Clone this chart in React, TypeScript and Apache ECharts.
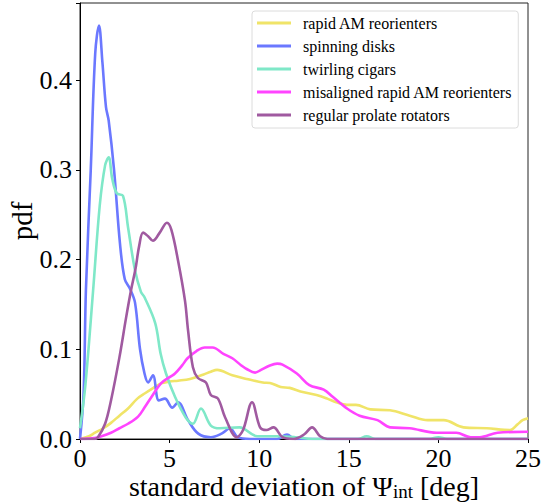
import React, { useEffect, useRef } from "react";
import * as echarts from "echarts";

const seriesNames = [
  "rapid AM reorienters",
  "spinning disks",
  "twirling cigars",
  "misaligned rapid AM reorienters",
  "regular prolate rotators",
];
const seriesColors = ["#f0e468", "#6b78ff", "#7fe8c8", "#ff44ff", "#a05aa0"];

const xTicks = [0, 5, 10, 15, 20, 25];
const yTicks = [0, 0.1, 0.2, 0.3, 0.4];

const rapidAM: number[][] = [
  [0, 0], [0.5, 0.003], [0.84, 0.007], [1.3, 0.012], [1.73, 0.018], [2.2, 0.026],
  [2.68, 0.034], [3.2, 0.045], [3.63, 0.051], [4.1, 0.057], [4.52, 0.062], [5.0, 0.064],
  [5.47, 0.065], [6.14, 0.067], [6.9, 0.072], [7.3, 0.075], [7.65, 0.077], [8.5, 0.071],
  [9.3, 0.067], [10.2, 0.063], [10.6, 0.0625], [11.2, 0.058], [11.7, 0.057], [12.3, 0.053],
  [13.2, 0.049], [13.8, 0.045], [14.3, 0.041], [14.9, 0.038], [15.4, 0.038], [16.2, 0.033],
  [17.3, 0.032], [18.4, 0.026], [19.4, 0.021], [20.3, 0.021], [21.4, 0.013], [22.7, 0.012],
  [24.0, 0.010], [24.4, 0.016], [24.7, 0.021], [25, 0.023],
];

const spinningDisks: number[][] = [
  [0, 0], [0.2, 0.05], [0.33, 0.166], [0.6, 0.3], [0.85, 0.43], [1.06, 0.461],
  [1.25, 0.42], [1.45, 0.37], [1.6, 0.355], [1.9, 0.3], [2.23, 0.218], [2.5, 0.178],
  [2.8, 0.167], [3.07, 0.152], [3.35, 0.1], [3.6, 0.073], [3.8, 0.063], [4.07, 0.071],
  [4.4, 0.043], [4.74, 0.045], [5.15, 0.035], [5.47, 0.041], [6.03, 0.021], [6.6, 0.006],
  [7.3, 0.002], [7.9, 0.006], [8.37, 0.012], [8.8, 0.002], [9.5, 0], [11.0, 0],
  [11.55, 0.005], [12.0, 0], [25, 0],
];

const twirlingCigars: number[][] = [
  [0, 0.012], [0.3, 0.06], [0.73, 0.165], [1.1, 0.26], [1.4, 0.305], [1.6, 0.314],
  [1.8, 0.29], [2.05, 0.274], [2.4, 0.271], [2.68, 0.236], [3.07, 0.188], [3.4, 0.164],
  [3.6, 0.158], [4.2, 0.129], [4.5, 0.095], [4.8, 0.073], [5.3, 0.047], [5.9, 0.024],
  [6.3, 0.017], [6.75, 0.034], [7.3, 0.015], [7.8, 0.012], [8.9, 0.013], [9.9, 0.003],
  [11, 0.003], [12, 0.002], [13, 0], [15.5, 0], [16, 0.003], [16.5, 0], [19.5, 0],
  [20, 0.002], [20.5, 0], [25, 0],
];

const misalignedRapidAM: number[][] = [
  [0, 0], [0.8, 0.001], [1.2, 0.003], [1.73, 0.007], [2.2, 0.012], [2.68, 0.017],
  [3.24, 0.025], [3.6, 0.035], [3.96, 0.046], [4.52, 0.062], [5.0, 0.069], [5.3, 0.073],
  [5.7, 0.082], [6.0, 0.09], [6.5, 0.098], [6.96, 0.102], [7.4, 0.102], [8.0, 0.095],
  [8.5, 0.09], [9.0, 0.082], [9.3, 0.078], [9.77, 0.074], [10.1, 0.077], [10.6, 0.082],
  [11.0, 0.084], [11.3, 0.083], [12.1, 0.073], [12.8, 0.06], [13.6, 0.055], [14.1, 0.047],
  [14.9, 0.034], [15.6, 0.026], [16.6, 0.021], [17.3, 0.013], [18.4, 0.012], [19.9, 0.007],
  [21.0, 0.007], [21.8, 0.002], [22.3, 0.002], [23.3, 0.007], [25, 0.008],
];

const prolateRotators: number[][] = [
  [0, 0], [0.8, 0], [1.0, 0.002], [1.4, 0.017], [1.73, 0.043], [2.2, 0.091],
  [2.57, 0.135], [2.85, 0.166], [3.1, 0.19], [3.3, 0.215], [3.52, 0.23], [3.8, 0.226],
  [4.07, 0.221], [4.45, 0.23], [4.85, 0.241], [5.1, 0.233], [5.47, 0.199], [5.86, 0.154],
  [6.03, 0.121], [6.3, 0.08], [6.58, 0.068], [7.03, 0.063], [7.3, 0.049], [7.7, 0.045],
  [8.1, 0.024], [8.75, 0.002], [9.1, 0.01], [9.6, 0.041], [10.05, 0.013], [10.4, 0.01],
  [10.8, 0.013], [11.3, 0.002], [11.9, 0], [12.5, 0.005], [12.95, 0.013], [13.4, 0.003],
  [13.8, 0], [25, 0],
];

const seriesData = [rapidAM, spinningDisks, twirlingCigars, misalignedRapidAM, prolateRotators];

const FONT = "Liberation Serif";

export default function App() {
  const ref = useRef<HTMLDivElement>(null);
  useEffect(() => {
    if (!ref.current) return;
    const chart = echarts.init(ref.current, null, { renderer: "svg" });
    chart.setOption({
      animation: false,
      grid: {
        left: 80,
        right: 15,
        top: 3,
        bottom: 64,
        outerBoundsMode: "none",
        containLabel: false,
        show: true,
        borderColor: "#222",
        borderWidth: 1,
        backgroundColor: "transparent",
      },
      legend: {
        orient: "vertical",
        left: 252,
        top: 11,
        padding: [4, 6, 5, 5],
        itemGap: 7,
        itemWidth: 34,
        itemHeight: 3,
        borderColor: "#dcdcdc",
        borderWidth: 1,
        borderRadius: 3,
        backgroundColor: "rgba(255,255,255,0.8)",
        icon: "rect",
        textStyle: {
          fontFamily: FONT,
          fontSize: 16,
          color: "#000",
          lineHeight: 16,
          padding: [0, 0, 0, 7],
        },
        data: seriesNames,
      },
      xAxis: {
        type: "value",
        min: 0,
        max: 25,
        interval: 5,
        name: "{a|standard deviation of Ψ}{b|int}{a| [deg]}",
        nameLocation: "middle",
        nameGap: 33,
        nameMoveOverlap: false,
        nameTextStyle: {
          rich: {
            a: { fontFamily: FONT, fontSize: 28, color: "#000" },
            b: { fontFamily: FONT, fontSize: 19, color: "#000", padding: [10, 0, 0, 0] },
          },
        },
        axisLine: { show: true, lineStyle: { color: "#000", width: 1 } },
        axisTick: { show: true, length: 4, lineStyle: { color: "#000" } },
        axisLabel: {
          fontFamily: FONT,
          fontSize: 26,
          color: "#000",
          margin: 6,
          formatter: (v: number) => (xTicks.includes(v) ? String(v) : ""),
        },
        splitLine: { show: false },
      },
      yAxis: {
        type: "value",
        min: 0,
        max: 0.486,
        interval: 0.1,
        name: "pdf",
        nameLocation: "middle",
        nameGap: 44,
        nameMoveOverlap: false,
        nameTextStyle: { fontFamily: FONT, fontSize: 29, color: "#000" },
        axisLine: { show: true, lineStyle: { color: "#000", width: 1 } },
        axisTick: { show: true, length: 4, lineStyle: { color: "#000" } },
        axisLabel: {
          fontFamily: FONT,
          fontSize: 26,
          color: "#000",
          margin: 8,
          formatter: (v: number) =>
            yTicks.some((t) => Math.abs(t - v) < 1e-9) ? v.toFixed(1) : "",
        },
        splitLine: { show: false },
      },
      series: seriesNames.map((name, i) => ({
        name,
        type: "line",
        data: seriesData[i],
        smooth: 0.35,
        showSymbol: false,
        symbol: "none",
        color: seriesColors[i],
        lineStyle: { color: seriesColors[i], width: 2.6 },
        z: 2 + i,
      })),
    });
    return () => chart.dispose();
  }, []);
  return (
    <div
      ref={ref}
      style={{ position: "absolute", left: 0, top: 0, width: 543, height: 503 }}
    />
  );
}
